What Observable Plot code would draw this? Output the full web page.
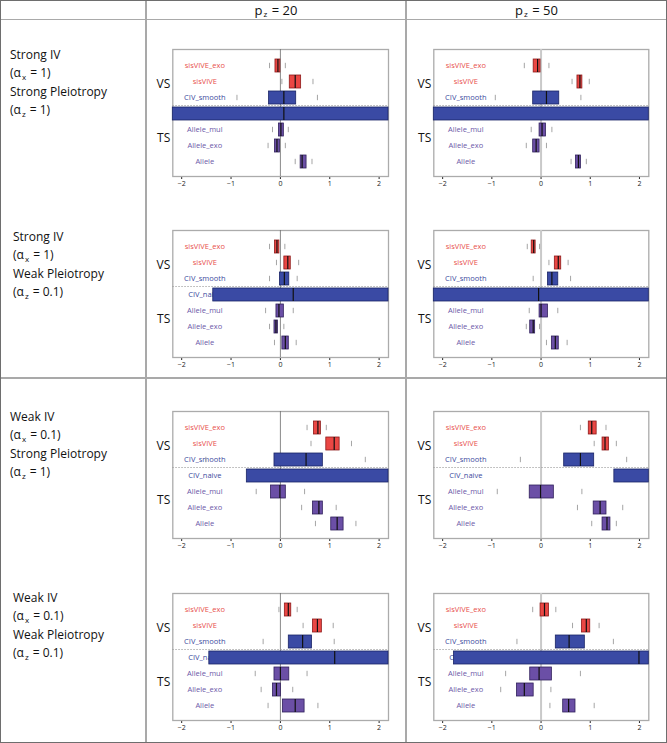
<!DOCTYPE html>
<html><head><meta charset="utf-8">
<script src="https://cdn.jsdelivr.net/npm/d3@7"></script>
<script src="https://cdn.jsdelivr.net/npm/@observablehq/plot@0.6"></script>
<style>
html,body{margin:0;padding:0;background:#fff;}
#wrap{position:relative;width:667px;height:743px;font-family:"Open Sans",sans-serif;overflow:hidden;background:#fff;}
.ln{position:absolute;background:#a9a9a9;}
.border{position:absolute;left:0;top:0;width:667px;height:743px;box-sizing:border-box;border:1.5px solid #6e6e6e;pointer-events:none;}
.hdr{position:absolute;top:0;height:19px;line-height:20px;text-align:center;font-size:13px;color:#111;}
.rl{position:absolute;font-size:12px;line-height:18px;color:#111;white-space:nowrap;}
.sub{font-size:8px;position:relative;top:3px;margin:0 1px;}
.pan{position:absolute;}
</style></head><body><div id="wrap"></div>
<script>
// ---- data ----
const methods  = ["sisVIVE_exo","sisVIVE","CIV_smooth","CIV_naive","Allele_mul","Allele_exo","Allele"];
const families = ["sisVIVE","sisVIVE","CIV","CIV","Allele","Allele","Allele"];
const colLabels = ["20","50"];
const ivLabels = ["Strong IV","Strong IV","Weak IV","Weak IV"];
const axValues = ["1","1","0.1","0.1"];
const pleioLabels = ["Strong Pleiotropy","Weak Pleiotropy","Strong Pleiotropy","Weak Pleiotropy"];
const azValues = ["1","0.1","1","0.1"];
const groupLabels = ["VS","TS"];
const xTicks = [-2,-1,0,1,2];

// panels: row-major (row1 col1, row1 col2, row2 col1, ...)
const lo = [
  [-0.22, 0.03,-0.88,null,-0.16,-0.25, 0.30],
  [-0.34, 0.63,-0.93,null,-0.20,-0.30, 0.61],
  [-0.22,-0.08,-0.22,null,-0.30,-0.22,-0.12],
  [-0.28, 0.16,-0.16,null,-0.24,-0.30, 0.11],
  [ 0.54, 0.62,-1.51,null,-0.49, 0.43, 0.71],
  [ 0.80, 1.08,-0.42,null,-0.89, 0.74, 1.03],
  [-0.03, 0.46,-0.35,null,-0.51,-0.39,-0.25],
  [-0.17, 0.64,-0.49,null,-0.72,-0.82, 0.18]
];
const q1 = [
  [-0.10, 0.19,-0.23,-2.6,-0.03,-0.11, 0.41],
  [-0.15, 0.74,-0.16,-2.6,-0.03,-0.16, 0.71],
  [-0.11, 0.08,-0.01,-1.36,-0.08,-0.12, 0.04],
  [-0.19, 0.28, 0.14,-2.6,-0.03,-0.22, 0.22],
  [ 0.68, 0.93,-0.12,-0.68,-0.19, 0.66, 1.03],
  [ 0.97, 1.25, 0.47, 1.49,-0.23, 1.07, 1.25],
  [ 0.09, 0.66, 0.17,-1.44,-0.12,-0.15, 0.05],
  [-0.01, 0.83, 0.30,-1.77,-0.22,-0.49, 0.45]
];
const med = [
  [-0.05, 0.30, 0.07, 0.07, 0.01,-0.07, 0.44],
  [-0.07, 0.79, 0.11, null, 0.02,-0.10, 0.76],
  [-0.07, 0.15, 0.08, 0.26,-0.03,-0.09, 0.10],
  [-0.15, 0.35, 0.22,-0.05, 0.00,-0.16, 0.29],
  [ 0.76, 1.09, 0.52, null,-0.01, 0.78, 1.15],
  [ 1.03, 1.30, 0.80, null,-0.01, 1.20, 1.34],
  [ 0.16, 0.75, 0.45, 1.10, 0.00,-0.08, 0.30],
  [ 0.07, 0.92, 0.57, 1.99,-0.04,-0.34, 0.56]
];
const q3 = [
  [ 0.00, 0.42, 0.32, 2.6, 0.07,-0.01, 0.53],
  [-0.01, 0.84, 0.37, 2.6, 0.10,-0.03, 0.81],
  [-0.02, 0.21, 0.18, 2.6, 0.07,-0.05, 0.17],
  [-0.11, 0.41, 0.35, 2.6, 0.14,-0.12, 0.36],
  [ 0.82, 1.20, 0.86, 2.6, 0.11, 0.86, 1.28],
  [ 1.13, 1.38, 1.08, 2.6, 0.26, 1.33, 1.41],
  [ 0.22, 0.84, 0.64, 2.6, 0.18, 0.01, 0.49],
  [ 0.16, 1.00, 0.89, 2.6, 0.22,-0.15, 0.70]
];
const hi = [
  [ 0.10, 0.66, 0.75,null, 0.16, 0.10, 0.64],
  [ 0.16, 0.98, 0.81,null, 0.22, 0.11, 0.92],
  [ 0.09, 0.37, 0.34,null, 0.26, 0.07, 0.32],
  [-0.03, 0.55, 0.60,null, 0.34,-0.03, 0.53],
  [ 0.93, 1.44, 1.72,null, 0.49, 1.13, 1.53],
  [ 1.32, 1.53, 1.74,null, 0.83, 1.66, 1.53],
  [ 0.34, 1.07, 1.09,null, 0.54, 0.25, 0.76],
  [ 0.30, 1.18, 1.47,null, 0.80, 0.20, 1.08]
];

// ---- styles ----
const fam = {
  sisVIVE: {fill:"#ea4744", stroke:"#8e1b1b", text:"#e8504c"},
  CIV:     {fill:"#3a4aa4", stroke:"#1b2566", text:"#3d4b9e"},
  Allele:  {fill:"#6b4fa6", stroke:"#31215c", text:"#6c58a8"}
};

const wrap = document.getElementById("wrap");
function addLine(l,t,w,h,c){const d=document.createElement("div");d.className="ln";d.style.left=l+"px";d.style.top=t+"px";d.style.width=w+"px";d.style.height=h+"px";if(c)d.style.background=c;wrap.appendChild(d);}

// headers
const colX = [[146,406],[406,667]];
colLabels.forEach((v,i)=>{
  const d=document.createElement("div");d.className="hdr";
  d.style.left=colX[i][0]+"px";d.style.width=(colX[i][1]-colX[i][0])+"px";
  d.innerHTML=`p<span class="sub" style="top:2px">z</span> = ${v}`;
  wrap.appendChild(d);
});

// row labels
const rlPos = [[10,46],[13,227.5],[10,407.5],[13,589]];
ivLabels.forEach((v,i)=>{
  const d=document.createElement("div");d.className="rl";
  d.style.left=rlPos[i][0]+"px";d.style.top=rlPos[i][1]+"px";
  d.innerHTML=`${v}<br>(α<span class="sub">x</span> = ${axValues[i]})<br>${pleioLabels[i]}<br>(α<span class="sub">z</span> = ${azValues[i]})`;
  wrap.appendChild(d);
});

const fmt = d => (d < 0 ? "\u2212" : "") + Math.abs(d);

// panels
const frameTops = [49.3, 230, 411, 592.7];
const mTop = 10, frameH = 127, mBot = 20;
for (let p=0;p<8;p++){
  const r = Math.floor(p/2), c = p%2;
  const rows = methods.map((m,i)=>({method:m, family:families[i], lo:lo[p][i], q1:q1[p][i], med:med[p][i], q3:q3[p][i], hi:hi[p][i]}));
  const left = colX[c][0]+1, width = colX[c][1]-colX[c][0]-2;
  const mL = c===0 ? 25.3 : 26.3;
  const mR = c===0 ? 17 : 17.7;
  const zero = c===0 ? {stroke:"#6a6a6a", strokeWidth:0.8} : {stroke:"#c9c9c9", strokeWidth:2};
  const marks = [
    Plot.frame({stroke:"#ababab", strokeWidth:1.3}),
    Plot.ruleX([0], zero),
    Plot.ruleY(["CIV_naive"], {y: d=>d, dy:-8.5, stroke:"#9a9a9a", strokeWidth:0.8, strokeDasharray:"1.5,1.5"}),
    Plot.text([groupLabels[0]], {text: d=>d, y: ()=>"sisVIVE", dy:2.5, frameAnchor:"left", dx:-2.5, textAnchor:"end", fontSize:12, fill:"#111", fontFamily:"Open Sans"}),
    Plot.text([groupLabels[1]], {text: d=>d, y: ()=>"Allele_exo", dy:-8, frameAnchor:"left", dx:-2.5, textAnchor:"end", fontSize:12, fill:"#111", fontFamily:"Open Sans"})
  ];
  for (const f of Object.keys(fam)){
    const sub = rows.filter(d=>d.family===f);
    marks.push(Plot.text(sub, {y:"method", text:"method", frameAnchor:"left", dx:32, textAnchor:"middle", fontSize:7.5, fill:fam[f].text, fontFamily:"Open Sans"}));
  }
  marks.push(Plot.tickX(rows, {x:"lo", y:"method", stroke:"#a5a5a5", strokeWidth:1, insetTop:3.8, insetBottom:3.8}));
  marks.push(Plot.tickX(rows, {x:"hi", y:"method", stroke:"#a5a5a5", strokeWidth:1, insetTop:3.8, insetBottom:3.8}));
  for (const f of Object.keys(fam)){
    const sub = rows.filter(d=>d.family===f);
    marks.push(Plot.barX(sub, {x1:"q1", x2:"q3", y:"method", fill:fam[f].fill, stroke:fam[f].stroke, strokeWidth:0.8}));
  }
  marks.push(Plot.tickX(rows, {x:"med", y:"method", stroke:"#111", strokeWidth:1.2}));

  const svg = Plot.plot({
    width, height: mTop+frameH+mBot,
    marginTop:mTop, marginBottom:mBot, marginLeft:mL, marginRight:mR,
    style:{background:"transparent", fontFamily:"Open Sans", fontSize:"7px", color:"#222", overflow:"visible"},
    x:{domain:[-2.18,2.19], clamp:true, ticks:xTicks, tickFormat:fmt, tickSize:3, tickPadding:2, label:null, axis:"bottom"},
    y:{domain:methods, axis:null, paddingInner:0.2, paddingOuter:0.1, insetTop:5.5, insetBottom:3},
    marks
  });
  const holder=document.createElement("div");holder.className="pan";
  holder.style.left=left+"px";holder.style.top=(frameTops[r]-mTop)+"px";
  holder.appendChild(svg);
  wrap.appendChild(holder);
}

// table lines
addLine(0,18.5,667,1.8);
addLine(145,0,1.8,743);
addLine(405.2,0,1.8,743);
addLine(0,377.2,667,1.8);
const b=document.createElement("div");b.className="border";wrap.appendChild(b);
</script>
</body></html>
